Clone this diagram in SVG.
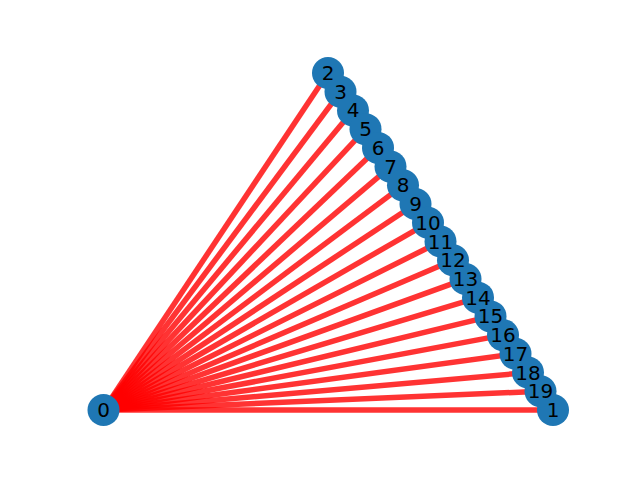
<svg xmlns="http://www.w3.org/2000/svg" width="640" height="480" viewBox="0 0 640 480">
<style>
.e{stroke:#ff0000;stroke-opacity:0.8;stroke-width:5.5;stroke-linecap:butt}
.n{fill:#1f77b4}
text{font-family:"DejaVu Sans",sans-serif;font-size:20px;fill:#000;text-anchor:middle}
</style>
<rect width="640" height="480" fill="#fff"/>
<g id="edges">
<line class="e" x1="103.5" y1="410" x2="553" y2="410"/>
<line class="e" x1="103.5" y1="410" x2="328" y2="73"/>
<line class="e" x1="103.5" y1="410" x2="340.5" y2="91.72"/>
<line class="e" x1="103.5" y1="410" x2="353" y2="110.44"/>
<line class="e" x1="103.5" y1="410" x2="365.5" y2="129.17"/>
<line class="e" x1="103.5" y1="410" x2="378" y2="147.89"/>
<line class="e" x1="103.5" y1="410" x2="390.5" y2="166.61"/>
<line class="e" x1="103.5" y1="410" x2="403" y2="185.33"/>
<line class="e" x1="103.5" y1="410" x2="415.5" y2="204.06"/>
<line class="e" x1="103.5" y1="410" x2="428" y2="222.78"/>
<line class="e" x1="103.5" y1="410" x2="440.5" y2="241.5"/>
<line class="e" x1="103.5" y1="410" x2="453" y2="260.22"/>
<line class="e" x1="103.5" y1="410" x2="465.5" y2="278.94"/>
<line class="e" x1="103.5" y1="410" x2="478" y2="297.67"/>
<line class="e" x1="103.5" y1="410" x2="490.5" y2="316.39"/>
<line class="e" x1="103.5" y1="410" x2="503" y2="335.11"/>
<line class="e" x1="103.5" y1="410" x2="515.5" y2="353.83"/>
<line class="e" x1="103.5" y1="410" x2="528" y2="372.56"/>
<line class="e" x1="103.5" y1="410" x2="540.5" y2="391.28"/>
</g>
<g id="node0"><circle class="n" cx="103.5" cy="410" r="16"/><text x="103.5" y="417">0</text></g>
<g id="node1"><circle class="n" cx="553" cy="410" r="16"/></g>
<g id="node2"><circle class="n" cx="328" cy="73" r="16"/></g>
<g id="node3"><circle class="n" cx="340.5" cy="91.72" r="16"/></g>
<g id="node4"><circle class="n" cx="353" cy="110.44" r="16"/></g>
<g id="node5"><circle class="n" cx="365.5" cy="129.17" r="16"/></g>
<g id="node6"><circle class="n" cx="378" cy="147.89" r="16"/></g>
<g id="node7"><circle class="n" cx="390.5" cy="166.61" r="16"/></g>
<g id="node8"><circle class="n" cx="403" cy="185.33" r="16"/></g>
<g id="node9"><circle class="n" cx="415.5" cy="204.06" r="16"/></g>
<g id="node10"><circle class="n" cx="428" cy="222.78" r="16"/></g>
<g id="node11"><circle class="n" cx="440.5" cy="241.5" r="16"/></g>
<g id="node12"><circle class="n" cx="453" cy="260.22" r="16"/></g>
<g id="node13"><circle class="n" cx="465.5" cy="278.94" r="16"/></g>
<g id="node14"><circle class="n" cx="478" cy="297.67" r="16"/></g>
<g id="node15"><circle class="n" cx="490.5" cy="316.39" r="16"/></g>
<g id="node16"><circle class="n" cx="503" cy="335.11" r="16"/></g>
<g id="node17"><circle class="n" cx="515.5" cy="353.83" r="16"/></g>
<g id="node18"><circle class="n" cx="528" cy="372.56" r="16"/></g>
<g id="node19"><circle class="n" cx="540.5" cy="391.28" r="16"/></g>
<g id="labels">
<text x="553" y="417">1</text>
<text x="328" y="80">2</text>
<text x="340.5" y="98.72">3</text>
<text x="353" y="117.44">4</text>
<text x="365.5" y="136.17">5</text>
<text x="378" y="154.89">6</text>
<text x="390.5" y="173.61">7</text>
<text x="403" y="192.33">8</text>
<text x="415.5" y="211.06">9</text>
<text x="428" y="229.78">10</text>
<text x="440.5" y="248.5">11</text>
<text x="453" y="267.22">12</text>
<text x="465.5" y="285.94">13</text>
<text x="478" y="304.67">14</text>
<text x="490.5" y="323.39">15</text>
<text x="503" y="342.11">16</text>
<text x="515.5" y="360.83">17</text>
<text x="528" y="379.56">18</text>
<text x="540.5" y="398.28">19</text>
</g>
</svg>
